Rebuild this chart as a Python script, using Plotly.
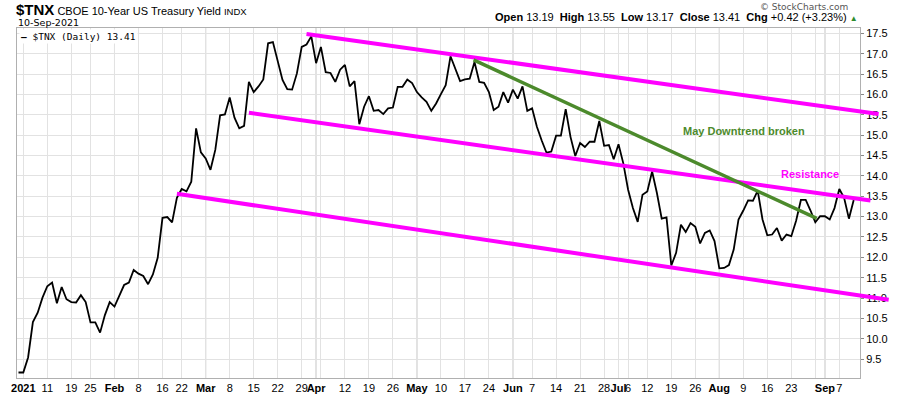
import pandas as pd
import plotly.graph_objects as go

# ---------------- data ----------------
holidays = ["2021-01-01", "2021-01-18", "2021-02-15", "2021-04-02",
            "2021-05-31", "2021-07-05", "2021-09-06"]
dates = [d for d in pd.bdate_range("2020-12-31", "2021-09-10")
         if d.strftime("%Y-%m-%d") not in holidays]

tnx = [9.17, 9.17, 9.54, 10.41, 10.64, 11.01, 11.29, 11.38, 10.87, 11.27,
       10.97, 10.90, 10.89, 11.07, 10.90, 10.40, 10.40, 10.15, 10.58, 10.90,
       10.79, 11.05, 11.32, 11.38, 11.69, 11.60, 11.54, 11.34, 11.58, 11.99,
       12.97, 12.99, 12.86, 13.46, 13.68, 13.62, 13.86, 15.17, 14.58, 14.43,
       14.15, 14.64, 15.49, 15.51, 15.93, 15.43, 15.17, 15.23, 16.31, 16.06,
       16.20, 16.37, 17.26, 17.29, 16.84, 16.36, 16.13, 16.12, 16.52, 17.17,
       17.23, 17.43, 16.77, 17.17, 16.55, 16.53, 16.31, 16.61, 16.73, 16.20,
       16.33, 15.27, 15.70, 15.96, 15.60, 15.62, 15.52, 15.66, 15.68, 16.19,
       16.19, 16.37, 16.28, 16.06, 15.93, 15.82, 15.60, 15.78, 16.01, 16.23,
       16.94, 16.64, 16.33, 16.37, 16.39, 16.80, 16.31, 16.29, 16.06, 15.62,
       15.70, 16.06, 15.80, 16.12, 15.90, 16.20, 15.60, 15.66, 15.21, 14.87,
       14.57, 14.60, 14.99, 14.99, 15.64, 14.96, 14.49, 14.81, 14.71, 14.84,
       14.84, 15.35, 14.74, 14.76, 14.41, 14.78, 14.31, 13.66, 13.21, 12.87,
       13.54, 13.62, 14.11, 13.58, 12.95, 12.98, 11.80, 12.11, 12.80, 12.62,
       12.84, 12.75, 12.34, 12.60, 12.66, 12.40, 11.73, 11.74, 11.81, 12.19,
       12.93, 13.15, 13.40, 13.39, 13.64, 12.93, 12.54, 12.56, 12.72, 12.41,
       12.56, 12.52, 12.90, 13.41, 13.41, 13.15, 12.86, 13.01, 13.01, 12.93,
       13.21, 13.68, 13.46, 12.95, 13.41]

tick_dates = ["2021-01-04", "2021-01-11", "2021-01-19", "2021-01-25", "2021-02-01",
              "2021-02-08", "2021-02-16", "2021-02-22", "2021-03-01", "2021-03-08",
              "2021-03-15", "2021-03-22", "2021-03-29", "2021-04-01", "2021-04-05",
              "2021-04-12", "2021-04-19", "2021-04-26", "2021-05-03", "2021-05-10",
              "2021-05-17", "2021-05-24", "2021-06-01", "2021-06-07", "2021-06-14",
              "2021-06-21", "2021-06-28", "2021-07-01", "2021-07-06", "2021-07-12",
              "2021-07-19", "2021-07-26", "2021-08-02", "2021-08-09", "2021-08-16",
              "2021-08-23", "2021-08-30", "2021-09-01", "2021-09-07"]
tick_labels = ["<b>2021</b>", "11", "19", "25", "<b>Feb</b>", "8", "16", "22",
               "<b>Mar</b>", "8", "15", "22", "29", "<b>Apr</b>", "", "12", "19", "26",
               "<b>May</b>", "10", "17", "24", "<b>Jun</b>", "7", "14", "21", "28",
               "<b>Jul</b>", "6", "12", "19", "26", "<b>Aug</b>", "9", "16", "23", "",
               "<b>Sep</b>", "7"]
month_dates = ["2021-02-01", "2021-03-01", "2021-04-01", "2021-05-03",
               "2021-06-01", "2021-07-01", "2021-08-02", "2021-09-01"]

y_ticks = [9.5, 10.0, 10.5, 11.0, 11.5, 12.0, 12.5, 13.0, 13.5, 14.0, 14.5,
           15.0, 15.5, 16.0, 16.5, 17.0, 17.5]

# trendlines: (position in trading-day index, value)
upper_x, upper_y = [60.0, 179.5], [17.49, 15.515]
middle_x, middle_y = [48.0, 177.8], [15.55, 13.39]
lower_x, lower_y = [33.0, 181.6], [13.56, 10.95]
green_x, green_y = [94.8, 166.6], [16.85, 12.94]

quote = {"Open": "13.19", "High": "13.55", "Low": "13.17", "Close": "13.41",
         "Chg": "+0.42 (+3.23%)"}

# ---------------- figure ----------------
pos = list(range(len(dates)))
date_str = [d.strftime("%Y-%m-%d") for d in dates]
tick_pos = [date_str.index(d) for d in tick_dates]
month_pos = [date_str.index(d) for d in month_dates]

FONT = "Liberation Sans, Arial, sans-serif"
MAG = "#ff00ff"
GRN = "#4c8a2c"

fig = go.Figure()
fig.add_trace(go.Scatter(x=pos, y=tnx, mode="lines",
                         line=dict(color="black", width=1.8),
                         hoverinfo="skip", showlegend=False))

shapes = []
for mp in month_pos:
    shapes.append(dict(type="line", xref="x", yref="paper", x0=mp, x1=mp, y0=0, y1=1,
                       line=dict(color="#b8b8b8", width=1), layer="below"))

annotations = []
for (xs, ys, col, w) in [(upper_x, upper_y, MAG, 4), (middle_x, middle_y, MAG, 4),
                         (lower_x, lower_y, MAG, 4), (green_x, green_y, GRN, 3.5)]:
    annotations.append(dict(x=xs[0], y=ys[0], ax=xs[1], ay=ys[1], xref="x", yref="y",
                            axref="x", ayref="y", text="", showarrow=True,
                            arrowhead=0, arrowwidth=w, arrowcolor=col,
                            standoff=0, startstandoff=0))

annotations.append(dict(x=151.1, y=15.10, xref="x", yref="y", text="<b>May Downtrend broken</b>",
                        showarrow=False, font=dict(family=FONT, size=11, color=GRN)))
annotations.append(dict(x=164.9, y=14.05, xref="x", yref="y", text="<b>Resistance</b>",
                        showarrow=False, font=dict(family=FONT, size=11, color=MAG)))

# header
annotations.append(dict(x=0, y=1, xref="paper", yref="paper", xanchor="left", yanchor="middle",
                        xshift=-3, yshift=19, showarrow=False,
                        text="<b><span style='font-size:15px'>$TNX</span></b> CBOE 10-Year US Treasury Yield "
                             "<span style='font-size:9.5px'>INDX</span>",
                        font=dict(family=FONT, size=11, color="black")))
annotations.append(dict(x=0, y=1, xref="paper", yref="paper", xanchor="left", yanchor="middle",
                        xshift=-1, yshift=5.5, showarrow=False, text="10-Sep-2021",
                        font=dict(family="DejaVu Sans", size=9.5, color="black")))
annotations.append(dict(x=1, y=1, xref="paper", yref="paper", xanchor="right", yanchor="middle",
                        xshift=-10, yshift=21, showarrow=False, text="© StockCharts.com",
                        font=dict(family="DejaVu Sans", size=9, color="#555555")))
qt = "  ".join(f"<b>{k}</b> {v}" for k, v in quote.items())
annotations.append(dict(x=1, y=1, xref="paper", yref="paper", xanchor="right", yanchor="middle",
                        xshift=0, yshift=11, showarrow=False,
                        text=qt + " <span style='color:#2e8b2e;font-size:8px'>▲</span>",
                        font=dict(family=FONT, size=11, color="black")))
annotations.append(dict(x=0, y=1, xref="paper", yref="paper", xanchor="left", yanchor="middle",
                        xshift=2, yshift=-8, showarrow=False, bgcolor="white",
                        text=f"<b>—</b> $TNX (Daily) {tnx[-1]:.2f}",
                        font=dict(family="DejaVu Sans Mono", size=9.5, color="black")))

fig.update_layout(
    width=900, height=396,
    margin=dict(l=17, r=40, t=28, b=18),
    paper_bgcolor="white", plot_bgcolor="white",
    shapes=shapes, annotations=annotations,
    xaxis=dict(range=[-0.31, 175.31], tickmode="array", tickvals=tick_pos,
               ticktext=tick_labels, tickangle=0, automargin=False, showgrid=True,
               gridcolor="#e2e2e2", gridwidth=1, zeroline=False, showline=True,
               mirror=True, linecolor="#b0b0b0",
               ticks="", tickfont=dict(family=FONT, size=11, color="black")),
    yaxis=dict(range=[9.035, 17.635], side="right", tickmode="array", tickvals=y_ticks,
               ticktext=[f"{v:.1f}" for v in y_ticks], automargin=False,
               showgrid=True, gridcolor="#e2e2e2", gridwidth=1, zeroline=False,
               showline=True, mirror=True, linecolor="#b0b0b0",
               ticks="outside", ticklen=3, tickcolor="#888888",
               tickfont=dict(family=FONT, size=11, color="black")),
)

fig.write_html("out.html", config={"displayModeBar": False},
               post_script="document.body.style.margin='0px';")
